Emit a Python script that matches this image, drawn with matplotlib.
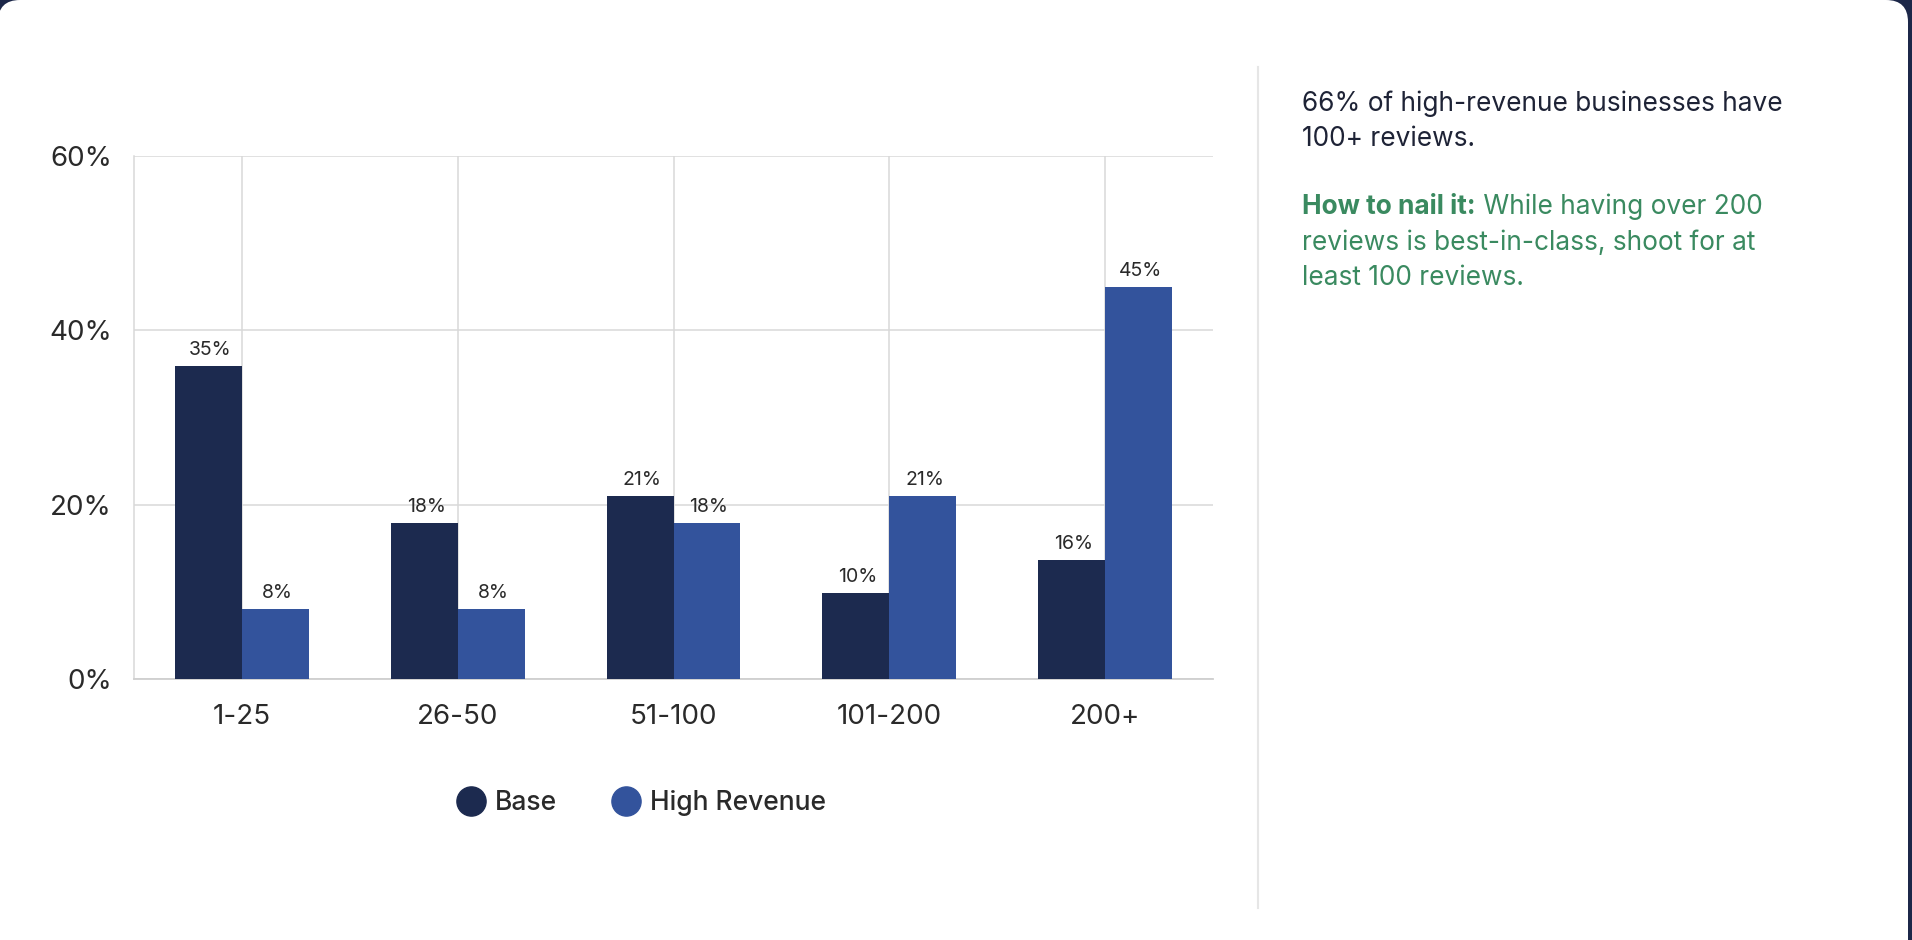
import numpy as np
import matplotlib
matplotlib.use("Agg")
import matplotlib.pyplot as plt
from matplotlib.lines import Line2D
from matplotlib.patches import FancyBboxPatch

# data ------------------------------------------------------------
categories = ["1-25", "26-50", "51-100", "101-200", "200+"]
base_vals = [35.9, 17.9, 21.0, 9.9, 13.7]      # bar heights (%)
high_vals = [8.0, 8.0, 17.9, 21.0, 45.0]
base_labels = ["35%", "18%", "21%", "10%", "16%"]
high_labels = ["8%", "8%", "18%", "21%", "45%"]
yticks = [0, 20, 40, 60]
ytick_labels = ["0%", "20%", "40%", "60%"]
series_names = ["Base", "High Revenue"]

headline = ["66% of high-revenue businesses have", "100+ reviews."]
tip_bold = "How to nail it:"
tip_lines = [" While having over 200", "reviews is best-in-class, shoot for at", "least 100 reviews."]

# colours -----------------------------------------------------------
c_base = "#1c2a4f"
c_high = "#33539c"
c_text = "#2a2a2a"
c_dark = "#1e2336"
c_green = "#3a8a60"
c_grid = "#d9d9d9"

plt.rcParams["font.family"] = ["Inter", "DejaVu Sans"]

W, H = 19.12, 9.40
fig = plt.figure(figsize=(W, H), dpi=100)
fig.patch.set_facecolor("#1c2749")

# white card with rounded corners (behind everything)
card = FancyBboxPatch((-0.02, -0.5), 19.10, H + 0.5,
                      boxstyle="round,pad=0,rounding_size=0.22",
                      transform=fig.dpi_scale_trans, facecolor="white",
                      edgecolor="none", zorder=-10)
fig.patches.append(card)

#axes placed in pixel units of the 1912x940 picture
def px(x0, y0, x1, y1):
    return [x0/1912., 1 - y1/940., (x1-x0)/1912., (y1-y0)/940.]

ax = fig.add_axes(px(134, 156, 1213, 679))
ax.set_facecolor("none")
ax.set_zorder(1)

x = np.arange(len(categories))
bw = 0.31
ax.bar(x - bw/2, base_vals, bw, color=c_base, zorder=3, label=series_names[0])
ax.bar(x + bw/2, high_vals, bw, color=c_high, zorder=3, label=series_names[1])

for xi, v, lab in zip(x - bw/2, base_vals, base_labels):
    ax.annotate(lab, (xi, v), xytext=(2, 11), textcoords="offset pixels",
                ha="center", va="baseline", fontsize=14, color=c_text)
for xi, v, lab in zip(x + bw/2, high_vals, high_labels):
    ax.annotate(lab, (xi, v), xytext=(2, 11), textcoords="offset pixels",
                ha="center", va="baseline", fontsize=14, color=c_text)

ax.set_xlim(-0.5, len(categories) - 0.5)
ax.set_ylim(0, 60)
ax.set_yticks(yticks)
ax.set_yticklabels(ytick_labels)
ax.set_xticks(x)
ax.set_xticklabels(categories)
ax.tick_params(axis="both", length=0, labelsize=20, colors=c_text)
ax.tick_params(axis="y", pad=16)
ax.tick_params(axis="x", pad=18)
ax.grid(True, color=c_grid, lw=1.1, zorder=0)
ax.set_axisbelow(True)
for s in ["top", "right"]:
    ax.spines[s].set_visible(False)
ax.spines["left"].set_color(c_grid)
ax.spines["bottom"].set_color("#cfcfcf")
ax.spines["left"].set_linewidth(1.1)
ax.spines["bottom"].set_linewidth(1.3)

# legend with round markers
handles = [Line2D([], [], ls="none", marker="o", ms=21, color=c)
           for c in (c_base, c_high)]
leg = fig.legend(handles, series_names, loc="center", ncol=2,
                 bbox_to_anchor=(642/1912., 1 - 803/940.), frameon=False,
                 fontsize=19, handlelength=1.0, handletextpad=0.4,
                 columnspacing=2.1)
for t in leg.get_texts():
    t.set_color(c_text)
    t.set_fontweight("medium")

# separator line on the right
fig.add_artist(Line2D([1258/1912.]*2, [1 - 67/940., 1 - 908/940.],
                      transform=fig.transFigure, color="#e6e6e6", lw=1.5))

# side text
tx = 1302/1912.
fs = 18.9
line_y = [104, 139, 207, 243, 278]
for s, yy in zip(headline, line_y[:2]):
    fig.text(tx, 1 - yy/940., s, fontsize=fs, color=c_dark, va="center")

tb = fig.text(tx, 1 - line_y[2]/940., tip_bold, fontsize=fs, color=c_green,
              fontweight="bold", va="center")
fig.canvas.draw()
bb = tb.get_window_extent(renderer=fig.canvas.get_renderer())
fig.text(bb.x1/fig.bbox.width, 1 - line_y[2]/940., tip_lines[0], fontsize=fs,
         color=c_green, va="center")
for s, yy in zip(tip_lines[1:], line_y[3:]):
    fig.text(tx, 1 - yy/940., s, fontsize=fs, color=c_green, va="center")

fig.savefig("out.png", dpi=100, facecolor=fig.get_facecolor())
